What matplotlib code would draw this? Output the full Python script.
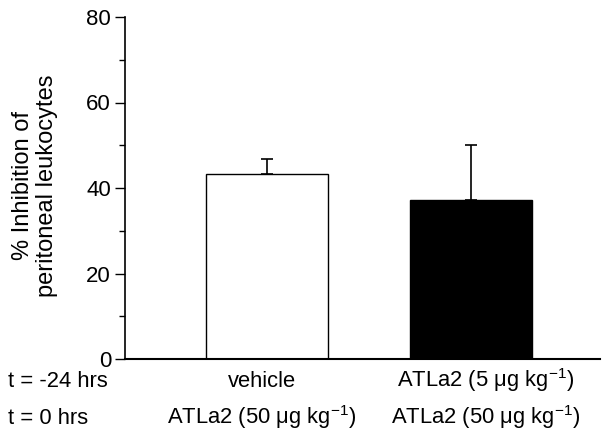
import matplotlib
matplotlib.use("Agg")
import matplotlib.pyplot as plt
from matplotlib.ticker import MultipleLocator

plt.rcParams['font.family'] = ['Liberation Sans', 'DejaVu Sans']
plt.rcParams['mathtext.fontset'] = 'custom'
plt.rcParams['mathtext.rm'] = 'Liberation Sans'
plt.rcParams['mathtext.it'] = 'Liberation Sans:italic'
plt.rcParams['mathtext.bf'] = 'Liberation Sans:bold'

# Data
groups = ["vehicle", "ATLa2 (5 μg kg$^{-1}$)"]
row2 = ["ATLa2 (50 μg kg$^{-1}$)", "ATLa2 (50 μg kg$^{-1}$)"]
values = [43.3, 37.1]
errors = [3.4, 13.0]
colors = ["white", "black"]
row_labels = ["t = -24 hrs", "t = 0 hrs"]

# layout (pixel offsets of the category labels from bar centres)
label_dx = [-5, 15]

fig = plt.figure(figsize=(6.10, 4.38), dpi=100)
ax = fig.add_axes([125/610, 1-359/438, (600-125)/610, (359-17)/438])

x = list(range(len(values)))
ax.bar(x, values, width=0.6, color=colors, edgecolor="black", linewidth=1.0, zorder=2)
ax.errorbar(x, values, yerr=[[0]*len(errors), errors], fmt="none", ecolor="black",
            elinewidth=1.2, capsize=4.3, capthick=1.2, zorder=3)

ax.set_xlim(-0.698, 1.636)
ax.set_ylim(0, 80)
ax.yaxis.set_major_locator(MultipleLocator(20))
ax.yaxis.set_minor_locator(MultipleLocator(10))
ax.tick_params(axis='y', which='major', length=7, width=1.0, labelsize=16, pad=3)
ax.tick_params(axis='y', which='minor', length=4, width=1.0)
ax.set_xticks([])
for s in ['top', 'right']:
    ax.spines[s].set_visible(False)
ax.spines['left'].set_linewidth(1.2)
ax.spines['bottom'].set_linewidth(1.5)

fig.text(35/610, 1-186/438, "% Inhibition of\nperitoneal leukocytes", rotation=90,
         ha='center', va='center', fontsize=17, linespacing=1.15, multialignment='center')

# Category labels
for xi, g, r, dx in zip(x, groups, row2, label_dx):
    ax.annotate(g, xy=(xi, 0), xycoords=('data', 'axes fraction'), xytext=(dx, -28),
                textcoords='offset pixels', ha='center', va='baseline', fontsize=15.8)
    ax.annotate(r, xy=(xi, 0), xycoords=('data', 'axes fraction'), xytext=(dx, -65),
                textcoords='offset pixels', ha='center', va='baseline', fontsize=15.8)

fig.text(8/610, 1-387/438, row_labels[0], ha='left', va='baseline', fontsize=15.8)
fig.text(8/610, 1-424/438, row_labels[1], ha='left', va='baseline', fontsize=15.8)

fig.savefig("out.png", dpi=100)
